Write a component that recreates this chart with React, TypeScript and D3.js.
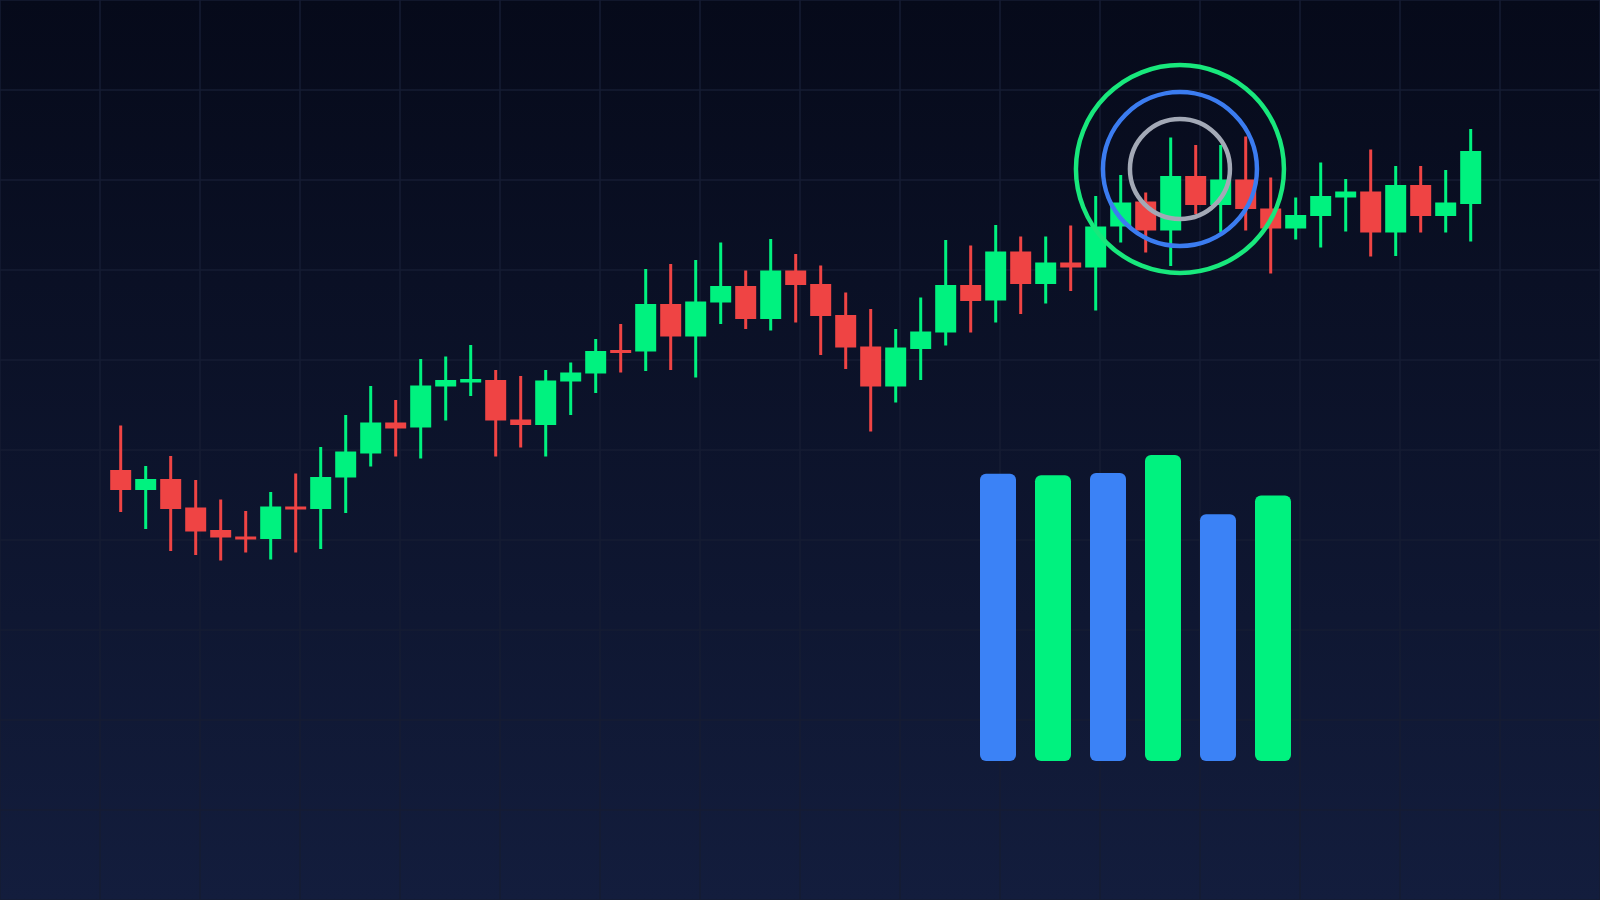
import React from "react";
import * as d3 from "d3";

const W = 1600;
const H = 900;

// OHLC candles (price units)
const opens = [66.0, 62.0, 64.2, 58.5, 54.0, 52.7, 52.2, 58.7, 58.2, 64.5, 69.3, 75.5, 74.5, 82.7, 83.5, 84.0, 76.1, 75.0, 83.7, 85.3, 90.0, 89.7, 99.2, 92.7, 99.5, 102.8, 96.2, 105.9, 103.2, 97.0, 90.7, 82.7, 90.2, 93.5, 103.0, 99.9, 109.7, 103.2, 107.5, 106.5, 114.7, 119.7, 113.9, 124.8, 119.0, 124.1, 118.3, 114.3, 116.8, 120.5, 121.7, 113.5, 123.0, 116.8, 119.2];
const highs = [74.9, 66.8, 68.8, 64.0, 60.1, 57.8, 61.6, 65.3, 70.6, 77.0, 82.8, 80.0, 88.2, 88.7, 91.0, 86.0, 84.8, 86.0, 87.5, 92.2, 95.2, 106.2, 107.2, 108.0, 111.5, 105.9, 112.2, 109.2, 106.9, 101.5, 98.2, 94.2, 100.5, 112.0, 110.9, 115.0, 112.7, 112.7, 114.9, 120.8, 125.0, 121.5, 132.5, 131.0, 131.0, 132.7, 124.5, 120.5, 127.5, 124.2, 130.1, 126.8, 126.8, 126.0, 134.2];
const lows = [57.6, 54.2, 49.8, 49.0, 47.9, 49.5, 48.1, 49.5, 50.2, 57.4, 66.7, 68.7, 68.3, 75.9, 80.8, 68.7, 70.5, 68.7, 77.0, 81.4, 85.5, 85.8, 86.0, 84.5, 95.2, 94.2, 93.9, 95.5, 89.0, 86.2, 73.7, 79.5, 84.0, 90.9, 93.5, 95.5, 97.2, 99.3, 101.8, 97.9, 111.5, 109.5, 106.8, 117.2, 113.5, 113.9, 105.3, 112.1, 110.5, 113.7, 108.7, 108.8, 113.5, 113.5, 111.7];
const closes = [62.0, 64.2, 58.2, 53.7, 52.5, 52.1, 58.7, 58.1, 64.6, 69.7, 75.5, 74.3, 82.9, 84.0, 84.2, 75.9, 75.0, 83.9, 85.5, 89.8, 89.5, 99.2, 92.7, 99.7, 102.8, 96.2, 105.9, 103.0, 96.8, 90.5, 82.7, 90.5, 93.7, 103.0, 99.8, 109.7, 103.2, 107.5, 106.5, 114.7, 119.5, 113.9, 124.8, 119.0, 124.1, 118.2, 114.3, 117.0, 120.8, 121.7, 113.5, 123.0, 116.8, 119.5, 129.8];

// Volume-style bars
const barCategories = ["A", "B", "C", "D", "E", "F"];
const barValues = [93.9, 93.4, 94.1, 100, 80.6, 86.8];
const barColors = ["#3b82f6", "#00f27f", "#3b82f6", "#00f27f", "#3b82f6", "#00f27f"];

// Target rings annotation (candle index, price, radius)
const ringCenterIndex = 42.37;
const ringCenterPrice = 126.2;
const ringRadii = [104, 77, 50];
const ringColors = ["#18e87c", "#3b7cf0", "#a3a9b6"];

// Grid
const gridXs = d3.range(0, 1601, 100);
const gridYs = d3.range(0, 901, 90);

const GREEN = "#00f27f";
const RED = "#ef4444";

export default function App() {
  const n = opens.length;
  const x = d3.scaleLinear().domain([0, n - 1]).range([120.7, 1470.7]);
  const y = d3.scaleLinear().domain([40, 140]).range([600, 100]);
  const bodyW = 21;

  const xb = d3
    .scaleBand<string>()
    .domain(barCategories)
    .range([980, 1291])
    .paddingInner(19 / 55)
    .paddingOuter(0);
  const yb = d3.scaleLinear().domain([0, 100]).range([761, 455]);

  return (
    <svg
      width={W}
      height={H}
      style={{ position: "absolute", left: 0, top: 0, display: "block" }}
    >
      <defs>
        <linearGradient id="bg" x1="0" y1="0" x2="0" y2="1">
          <stop offset="0%" stopColor="#060a1a" />
          <stop offset="100%" stopColor="#131d3d" />
        </linearGradient>
      </defs>
      <rect x={0} y={0} width={W} height={H} fill="url(#bg)" />
      <g stroke="#161d33" strokeWidth={1.5}>
        {gridXs.map((gx) => (
          <line key={"gx" + gx} x1={gx} x2={gx} y1={0} y2={H} />
        ))}
        {gridYs.map((gy) => (
          <line key={"gy" + gy} x1={0} x2={W} y1={gy} y2={gy} />
        ))}
      </g>

      <g>
        {opens.map((o, i) => {
          const c = closes[i];
          const up = c >= o;
          const col = up ? GREEN : RED;
          const cx = x(i);
          const top = y(Math.max(o, c));
          const bot = y(Math.min(o, c));
          const h = Math.max(bot - top, 3);
          return (
            <g key={i}>
              <line
                x1={cx}
                x2={cx}
                y1={y(highs[i])}
                y2={y(lows[i])}
                stroke={col}
                strokeWidth={3}
              />
              <rect x={cx - bodyW / 2} y={top} width={bodyW} height={h} fill={col} />
            </g>
          );
        })}
      </g>

      <g fill="none" strokeWidth={4.5}>
        {ringRadii.map((r, i) => (
          <circle
            key={r}
            cx={x(ringCenterIndex)}
            cy={y(ringCenterPrice)}
            r={r}
            stroke={ringColors[i]}
          />
        ))}
      </g>

      <g>
        {barCategories.map((cat, i) => (
          <rect
            key={cat}
            x={xb(cat)}
            y={yb(barValues[i])}
            width={xb.bandwidth()}
            height={yb(0) - yb(barValues[i])}
            rx={6}
            ry={6}
            fill={barColors[i]}
          />
        ))}
      </g>
    </svg>
  );
}
